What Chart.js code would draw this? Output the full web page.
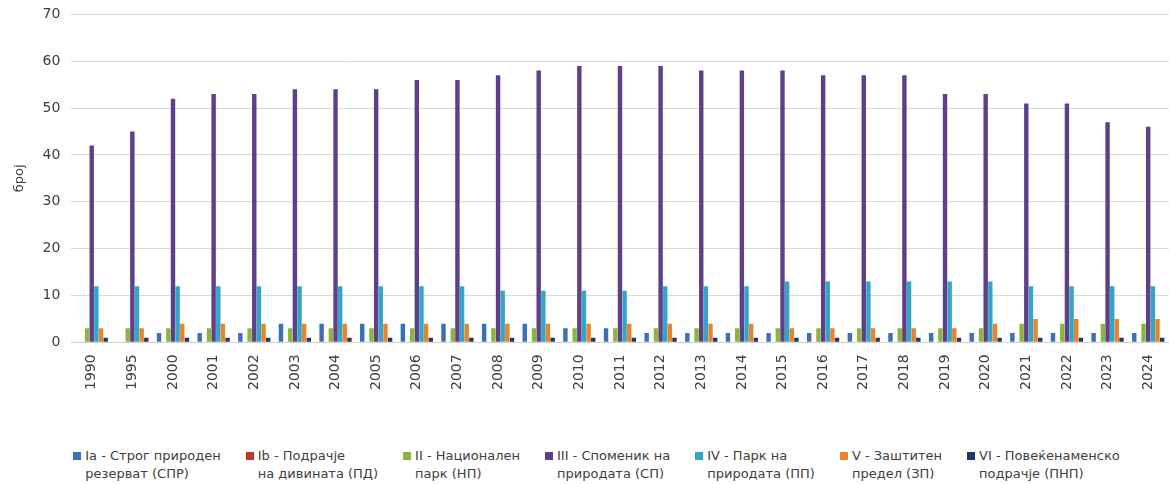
<!DOCTYPE html>
<html>
<head>
<meta charset="utf-8">
<script src="https://cdn.jsdelivr.net/npm/chart.js@4/dist/chart.umd.min.js"></script>
<style>
  body { margin: 0; background: #fff; font-family: "DejaVu Sans", sans-serif; overflow: hidden; }
  #wrap { position: relative; width: 1169px; height: 484px; overflow: hidden; }
  #box { position: absolute; left: 0; top: -5px; width: 1169px; height: 399px; }
  #legend { position: absolute; left: 24px; top: 447px; width: 1145px; display: flex; justify-content: center; gap: 25px; font-size: 13px; color: #404040; line-height: 18px; }
  .item { display: flex; align-items: flex-start; }
  .sw { width: 8px; height: 8px; margin: 5px 4px 0 0; flex: none; }
</style>
</head>
<body>
<div id="wrap">
  <div id="box"><canvas id="chart"></canvas></div>
  <div id="legend"></div>
</div>
<script>
const years = ['1990', '1995', '2000', '2001', '2002', '2003', '2004', '2005', '2006', '2007', '2008', '2009', '2010',
  '2011', '2012', '2013', '2014', '2015', '2016', '2017', '2018', '2019', '2020', '2021', '2022', '2023', '2024'];

const seriesNames = [
  ['Ia - Строг природен', 'резерват (СПР)'],
  ['Ib - Подрачје', 'на дивината (ПД)'],
  ['II - Национален', 'парк (НП)'],
  ['III - Споменик на', 'природата (СП)'],
  ['IV - Парк на', 'природата (ПП)'],
  ['V - Заштитен', 'предел (ЗП)'],
  ['VI - Повеќенаменско', 'подрачје (ПНП)']
];

const ia  = [0, 0, 2, 2, 2, 4, 4, 4, 4, 4, 4, 4, 3, 3, 2, 2, 2, 2, 2, 2, 2, 2, 2, 2, 2, 2, 2];
const ib  = [0, 0, 0, 0, 0, 0, 0, 0, 0, 0, 0, 0, 0, 0, 0, 0, 0, 0, 0, 0, 0, 0, 0, 0, 0, 0, 0];
const ii  = [3, 3, 3, 3, 3, 3, 3, 3, 3, 3, 3, 3, 3, 3, 3, 3, 3, 3, 3, 3, 3, 3, 3, 4, 4, 4, 4];
const iii = [42, 45, 52, 53, 53, 54, 54, 54, 56, 56, 57, 58, 59, 59, 59, 58, 58, 58, 57, 57, 57, 53, 53, 51, 51, 47, 46];
const iv  = [12, 12, 12, 12, 12, 12, 12, 12, 12, 12, 11, 11, 11, 11, 12, 12, 12, 13, 13, 13, 13, 13, 13, 12, 12, 12, 12];
const v   = [3, 3, 4, 4, 4, 4, 4, 4, 4, 4, 4, 4, 4, 4, 4, 4, 4, 3, 3, 3, 3, 3, 4, 5, 5, 5, 5];
const vi  = [1, 1, 1, 1, 1, 1, 1, 1, 1, 1, 1, 1, 1, 1, 1, 1, 1, 1, 1, 1, 1, 1, 1, 1, 1, 1, 1];

const colors = ['#3a70b6', '#c0392b', '#8db43e', '#5e3f8a', '#33a6c6', '#e8842c', '#1f3864'];
const values = [ia, ib, ii, iii, iv, v, vi];

const ctx = document.getElementById('chart').getContext('2d');
new Chart(ctx, {
  type: 'bar',
  data: {
    labels: years,
    datasets: values.map((d, i) => ({
      label: seriesNames[i].join(' '),
      data: d,
      backgroundColor: colors[i],
      categoryPercentage: 0.8,
      barPercentage: 0.95,
    })),
  },
  options: {
    responsive: true,
    maintainAspectRatio: false,
    animation: false,
    layout: { padding: { top: 0, left: 8, right: 0, bottom: 0 } },
    plugins: { legend: { display: false }, tooltip: { enabled: false } },
    scales: {
      x: {
        grid: { display: false },
        border: { color: '#d0d0d0' },
        ticks: { color: '#404040', font: { family: 'DejaVu Sans', size: 14 }, minRotation: 90, maxRotation: 90, padding: 4 },
      },
      y: {
        min: 0,
        max: 70,
        ticks: { stepSize: 10, color: '#404040', font: { family: 'DejaVu Sans', size: 14 }, padding: 11 },
        grid: { color: '#d9d9d9', drawTicks: false },
        border: { display: false },
        title: { display: true, text: 'број', color: '#404040', font: { family: 'DejaVu Sans', size: 13 } },
      },
    },
  },
});

// legend in html, two lines per item
const legend = document.getElementById('legend');
seriesNames.forEach((name, i) => {
  const item = document.createElement('div');
  item.className = 'item';
  item.innerHTML = '<span class="sw" style="background:' + colors[i] + '"></span><span>' + name[0] + '<br>' + name[1] + '</span>';
  legend.appendChild(item);
});
</script>
</body>
</html>
